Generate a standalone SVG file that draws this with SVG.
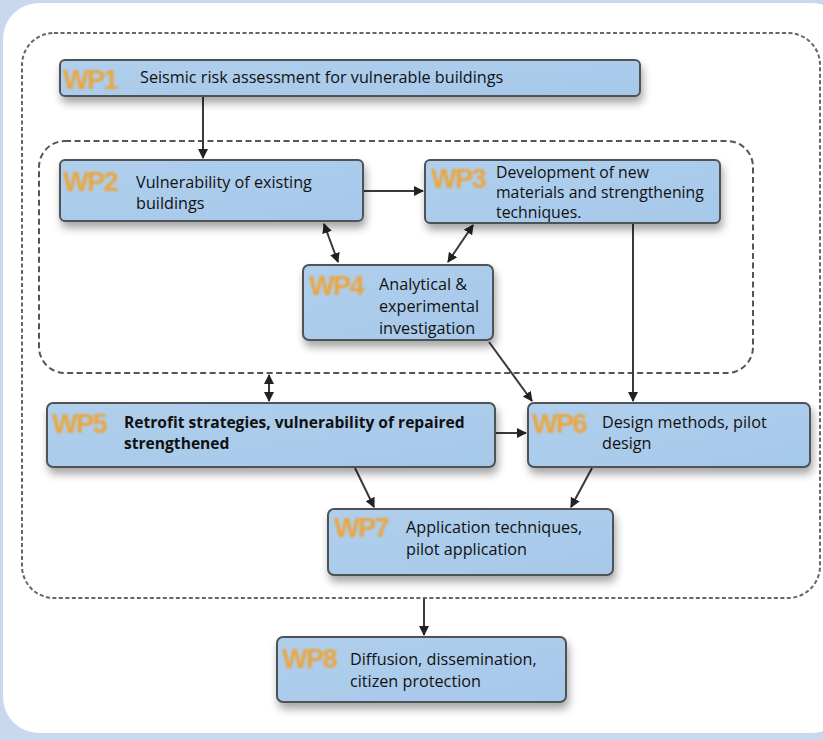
<svg xmlns="http://www.w3.org/2000/svg" width="823" height="740" viewBox="0 0 823 740">
<defs>
<style>
.box{fill:url(#bg);stroke:#4d5257;stroke-width:2;filter:url(#sh)}
.t{font-family:"Open Sans","Noto Sans",sans-serif;font-size:16.2px;fill:#111}
.t3{font-family:"Open Sans","Noto Sans",sans-serif;font-size:15.8px;fill:#111}
.tb{font-family:"Open Sans","Noto Sans",sans-serif;font-size:15.6px;font-weight:bold;fill:#111}
.wp{font-family:"Liberation Sans",Arial,sans-serif;font-size:27px;font-weight:bold;fill:#eba53c;letter-spacing:-1.5px;filter:url(#gl)}
.c{stroke:#3a3a3a;stroke-width:2;fill:none}
.dash1{fill:none;stroke:#666;stroke-width:2;stroke-dasharray:4 2.5}
.dash2{fill:none;stroke:#555;stroke-width:2;stroke-dasharray:6 3.5}
</style>
<linearGradient id="bg" x1="0" y1="0" x2="1" y2="1">
<stop offset="0" stop-color="#b0cfed"/>
<stop offset="1" stop-color="#a6c8e9"/>
</linearGradient>
<filter id="sh" x="-10%" y="-20%" width="120%" height="160%">
<feDropShadow dx="2" dy="6" stdDeviation="4" flood-color="#000" flood-opacity="0.35"/>
</filter>
<filter id="gl" x="-20%" y="-30%" width="140%" height="160%">
<feGaussianBlur stdDeviation="0.9"/>
</filter>
<marker id="ah" viewBox="0 0 10 10" refX="9" refY="5" markerWidth="5" markerHeight="5" orient="auto-start-reverse" markerUnits="strokeWidth">
<path d="M0,0 L10,5 L0,10 z" fill="#222"/>
</marker>
</defs>
<rect x="0" y="0" width="823" height="740" fill="#cad8ef"/>
<rect x="3" y="3" width="845" height="730" rx="36" fill="#ffffff"/>
<g id="containers">
<rect class="dash1" x="22" y="33" width="798" height="565" rx="32"/>
<rect class="dash2" x="39" y="141" width="714" height="232" rx="26"/>
</g>
<g id="connectors">
<line class="c" x1="203" y1="97" x2="203" y2="158" marker-end="url(#ah)"/>
<line class="c" x1="364" y1="191" x2="423" y2="191" marker-end="url(#ah)"/>
<line class="c" x1="324" y1="224" x2="338" y2="262" marker-start="url(#ah)" marker-end="url(#ah)"/>
<line class="c" x1="473" y1="225" x2="448" y2="262" marker-start="url(#ah)" marker-end="url(#ah)"/>
<line class="c" x1="633" y1="224" x2="633" y2="401" marker-end="url(#ah)"/>
<line class="c" x1="489" y1="342" x2="532" y2="401" marker-end="url(#ah)"/>
<line class="c" x1="495" y1="433" x2="526" y2="433" marker-end="url(#ah)"/>
<line class="c" x1="269" y1="375" x2="269" y2="401" marker-start="url(#ah)" marker-end="url(#ah)"/>
<line class="c" x1="355" y1="468" x2="374" y2="507" marker-end="url(#ah)"/>
<line class="c" x1="592" y1="468" x2="571" y2="507" marker-end="url(#ah)"/>
<line class="c" x1="424" y1="599" x2="424" y2="635" marker-end="url(#ah)"/>
</g>
<g id="wp1">
<rect class="box" x="60" y="60" width="580" height="36" rx="5"/>
<text class="wp" x="63" y="89">WP1</text>
<text class="t" x="140" y="83">Seismic risk assessment for vulnerable buildings</text>
</g>
<g id="wp2">
<rect class="box" x="60" y="160" width="303" height="61" rx="5"/>
<text class="wp" x="63" y="191">WP2</text>
<text class="t" x="136" y="188">Vulnerability of existing</text>
<text class="t" x="136" y="209">buildings</text>
</g>
<g id="wp3">
<rect class="box" x="425" y="160" width="295" height="63" rx="5"/>
<text class="wp" x="431" y="188">WP3</text>
<text class="t3" x="496" y="178">Development of new</text>
<text class="t3" x="496" y="198">materials and strengthening</text>
<text class="t3" x="496" y="218">techniques.</text>
</g>
<g id="wp4">
<rect class="box" x="303" y="265" width="190" height="75" rx="6"/>
<text class="wp" x="309" y="295">WP4</text>
<text class="t" x="379" y="290">Analytical &amp;</text>
<text class="t" x="379" y="312">experimental</text>
<text class="t" x="379" y="334">investigation</text>
</g>
<g id="wp5">
<rect class="box" x="47" y="403" width="448" height="64" rx="6"/>
<text class="wp" x="52" y="433">WP5</text>
<text class="tb" x="124" y="428">Retrofit strategies, vulnerability of repaired</text>
<text class="tb" x="124" y="449">strengthened</text>
</g>
<g id="wp6">
<rect class="box" x="528" y="403" width="282" height="64" rx="6"/>
<text class="wp" x="532" y="433">WP6</text>
<text class="t" x="602" y="428">Design methods, pilot</text>
<text class="t" x="602" y="449">design</text>
</g>
<g id="wp7">
<rect class="box" x="328" y="509" width="285" height="66" rx="6"/>
<text class="wp" x="334" y="537">WP7</text>
<text class="t" x="406" y="533">Application techniques,</text>
<text class="t" x="406" y="555">pilot application</text>
</g>
<g id="wp8">
<rect class="box" x="277" y="637" width="289" height="65" rx="6"/>
<text class="wp" x="282" y="668">WP8</text>
<text class="t" x="350" y="665">Diffusion, dissemination,</text>
<text class="t" x="350" y="687">citizen protection</text>
</g>
</svg>
